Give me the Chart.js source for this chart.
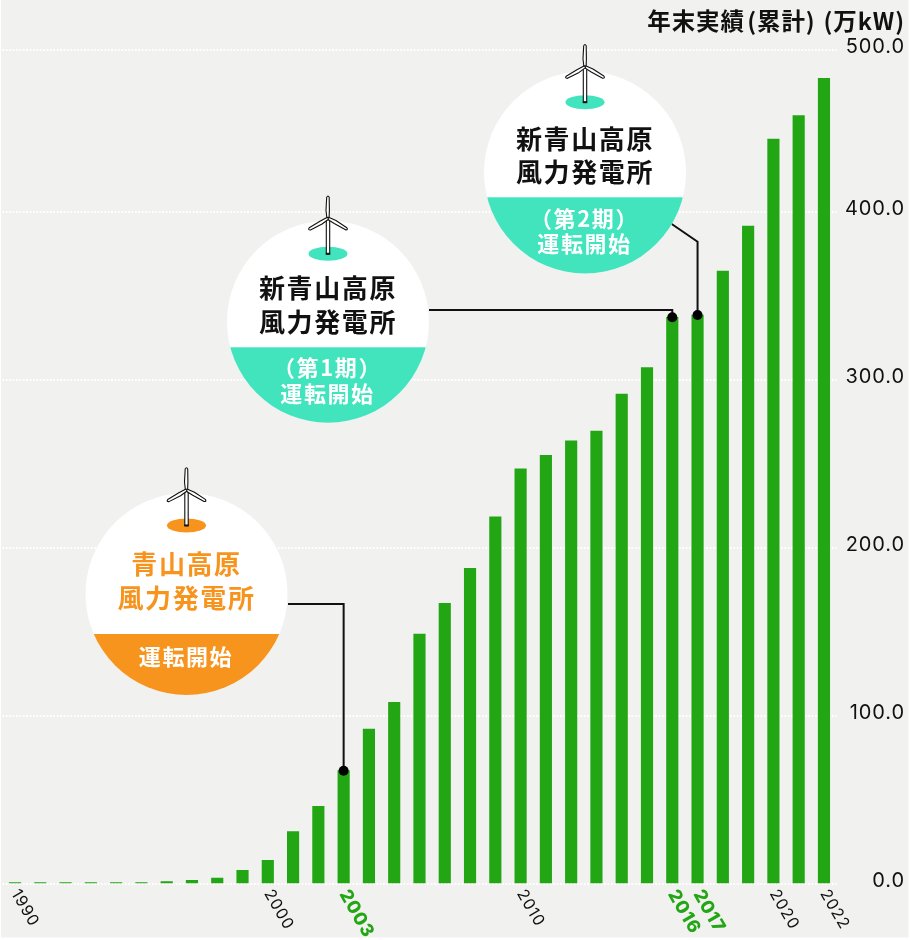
<!DOCTYPE html>
<html lang="ja">
<head>
<meta charset="utf-8">
<title>風力発電 年末実績</title>
<style>html,body{margin:0;padding:0;background:#fff}canvas{display:block}</style>
<script src="https://cdn.jsdelivr.net/npm/chart.js@4"></script>
</head>
<body>
<canvas id="c" width="910" height="940"></canvas>
<script>
const years = ['1990','1991','1992','1993','1994','1995','1996','1997','1998','1999','2000','2001','2002','2003','2004','2005','2006','2007','2008','2009','2010','2011','2012','2013','2014','2015','2016','2017','2018','2019','2020','2021','2022'];
const capacity = [0.9,0.9,0.9,0.9,0.9,0.9,1.4,2.2,3.6,8.1,14.1,31.2,46.3,67.5,92.3,108.2,148.9,167.2,188.0,218.6,247.2,255.3,264.0,269.8,291.8,307.5,337.5,338.9,365.1,391.9,443.7,457.6,479.9];
const labeledYears = ['1990','2000','2003','2010','2016','2017','2020','2022'];
const highlightYears = ['2003','2016','2017'];
const yTickValues = [0,100,200,300,400,496.7];
const yTickLabels = ['0.0','100.0','200.0','300.0','400.0','500.0'];
const axisTitle = '年末実績\u200a(累計)\u2009\u200a(万kW)';

const GREEN = '#22a614', TEAL = '#41e4bd', ORANGE = '#f7941e', INK = '#111111';
const CJK = '"Noto Sans CJK JP"';

const callouts = [
  {year:'2003', color:ORANGE, titleColor:ORANGE, cx:186.5, cy:594, split:634, hub:490,
   title:[['青山高原',564],['風力発電所',598]], sub:[['運転開始',656.7]], bend:[[288,604],[null,604]]},
  {year:'2016', color:TEAL, titleColor:'#111111', cx:328, cy:321.7, split:347.3, hub:218.3,
   title:[['新青山高原',288.3],['風力発電所',322.5]], sub:[['（第1期）',367.7],['運転開始',394]], bend:[[429,310],[null,310]]},
  {year:'2017', color:TEAL, titleColor:'#111111', cx:585, cy:172.4, split:197.3, hub:66.7,
   title:[['新青山高原',139.3],['風力発電所',172.3]], sub:[['（第2期）',218.3],['運転開始',243.3]], bend:[[671.7,224],[null,241.7]]}
];

function drawTurbine(ctx, x, hub, color){
  ctx.save();
  ctx.fillStyle = color;
  ctx.beginPath(); ctx.ellipse(x, hub+35.5, 19.5, 7, 0, 0, Math.PI*2); ctx.fill();
  ctx.strokeStyle = '#111'; ctx.lineWidth = 1.1; ctx.fillStyle = '#fff'; ctx.lineJoin='round';
  ctx.beginPath(); ctx.rect(x-1.7, hub, 3.4, 35.5); ctx.fill(); ctx.stroke();
  ctx.fillStyle = '#111'; ctx.fillRect(x-2.2, hub+34.5, 4.4, 2);
  ctx.fillStyle = '#fff';
  [0, 120, 240].forEach(a => {
    ctx.save(); ctx.translate(x, hub); ctx.rotate(a*Math.PI/180);
    ctx.beginPath();
    ctx.moveTo(-1.1,0); ctx.lineTo(-2,-8); ctx.lineTo(-1.3,-21); ctx.quadraticCurveTo(0,-23.5,1.2,-21);
    ctx.lineTo(1.4,-8); ctx.lineTo(1.1,0); ctx.closePath();
    ctx.fill(); ctx.stroke(); ctx.restore();
  });
  ctx.restore();
}

function setSpacing(ctx, v){ if ('letterSpacing' in ctx) ctx.letterSpacing = v; }

const backdrop = {
  id:'backdrop',
  beforeDraw(chart){
    const ctx = chart.ctx;
    ctx.save(); ctx.fillStyle='#fff'; ctx.fillRect(0,0,910,940);
    ctx.fillStyle='#f1f1f0'; ctx.fillRect(1,0,907.5,937.5); ctx.restore();
    setSpacing(ctx,'0.9px');
  }
};

const calloutPlugin = {
  id:'callouts',
  afterDatasetsDraw(chart){
    const ctx = chart.ctx, xs = chart.scales.x, ys = chart.scales.y;
    setSpacing(ctx,'0px');
    callouts.forEach(c => {
      const i = years.indexOf(c.year), px = xs.getPixelForValue(i), py = ys.getPixelForValue(capacity[i]);
      ctx.save();
      ctx.strokeStyle = INK; ctx.lineWidth = 2; ctx.lineJoin='miter';
      ctx.beginPath(); ctx.moveTo(c.bend[0][0], c.bend[0][1]);
      ctx.lineTo(px, c.bend[1][1]); ctx.lineTo(px, py); ctx.stroke();
      ctx.fillStyle = '#000'; ctx.beginPath(); ctx.arc(px, py, 5, 0, Math.PI*2); ctx.fill();
      ctx.restore();

      ctx.save();
      ctx.beginPath(); ctx.arc(c.cx, c.cy, 101, 0, Math.PI*2); ctx.clip();
      ctx.fillStyle='#fff'; ctx.fillRect(c.cx-102,c.cy-102,204,204);
      ctx.fillStyle=c.color; ctx.fillRect(c.cx-102,c.split,204,c.cy+102-c.split);
      ctx.restore();

      drawTurbine(ctx, c.cx, c.hub, c.color);

      ctx.save();
      ctx.textAlign='center'; ctx.textBaseline='middle';
      ctx.font = `700 26px ${CJK}`; setSpacing(ctx,'1.6px'); ctx.fillStyle=c.titleColor;
      c.title.forEach(t => ctx.fillText(t[0], c.cx, t[1]));
      ctx.font = `700 22px ${CJK}`; setSpacing(ctx,'1.6px'); ctx.fillStyle='#fff';
      c.sub.forEach(t => ctx.fillText(t[0], c.cx-0.5, t[1]));
      ctx.restore();
    });
    setSpacing(ctx,'0.9px');
  }
};

new Chart(document.getElementById('c'), {
  type:'bar',
  data:{ labels:years, datasets:[{ label:'年末実績(累計)(万kW)', data:capacity, backgroundColor:GREEN, barThickness:11.5, borderWidth:0 }] },
  plugins:[backdrop, calloutPlugin],
  options:{
    responsive:false, devicePixelRatio:1, animation:false,
    layout:{ padding:{ left:2.36, right:5, top:0, bottom:0 } },
    plugins:{
      legend:{display:false}, tooltip:{enabled:false},
      title:{ display:true, text:axisTitle, align:'end', color:'#111',
        font:{family:CJK, weight:'700', size:23.5, lineHeight:1.2},
        padding:{top:6.5, bottom:15.3} }
    },
    scales:{
      x:{
        type:'category', grid:{display:false, drawTicks:false}, border:{display:false},
        ticks:{
          autoSkip:false, minRotation:-60, maxRotation:-60, padding:2,
          callback(v,i){ const y = years[i]; return labeledYears.includes(y) ? y : ''; },
          color(ctx){ return highlightYears.includes(years[ctx.index]) ? GREEN : '#111'; },
          font(ctx){ const h = highlightYears.includes(years[ctx.index]);
            return {family:'Inter', size:h?18:16, weight:h?'800':'400', lineHeight:1.2}; }
        },
        afterFit(s){ s.height = 56; s.paddingLeft = 0; s.paddingRight = 0; s.paddingTop=0; s.paddingBottom=0; s._getXAxisLabelAlignment = () => 'left'; }
      },
      y:{
        position:'right', min:0, max:496.7,
        grid:{color:'#ffffff', lineWidth:2, drawTicks:false}, border:{display:false, dash:[1.8,1.6]},
        afterBuildTicks(s){ s.ticks = yTickValues.map(value => ({value})); },
        ticks:{
          crossAlign:'far', padding:7, labelOffset:-3, color:'#111',
          font:{family:'Inter', size:20, weight:'400'},
          callback(v,i){ return yTickLabels[i]; }
        },
        afterFit(s){ s.width = 68.4; s.paddingTop=0; s.paddingBottom=0; }
      }
    }
  }
});
</script>
</body>
</html>
